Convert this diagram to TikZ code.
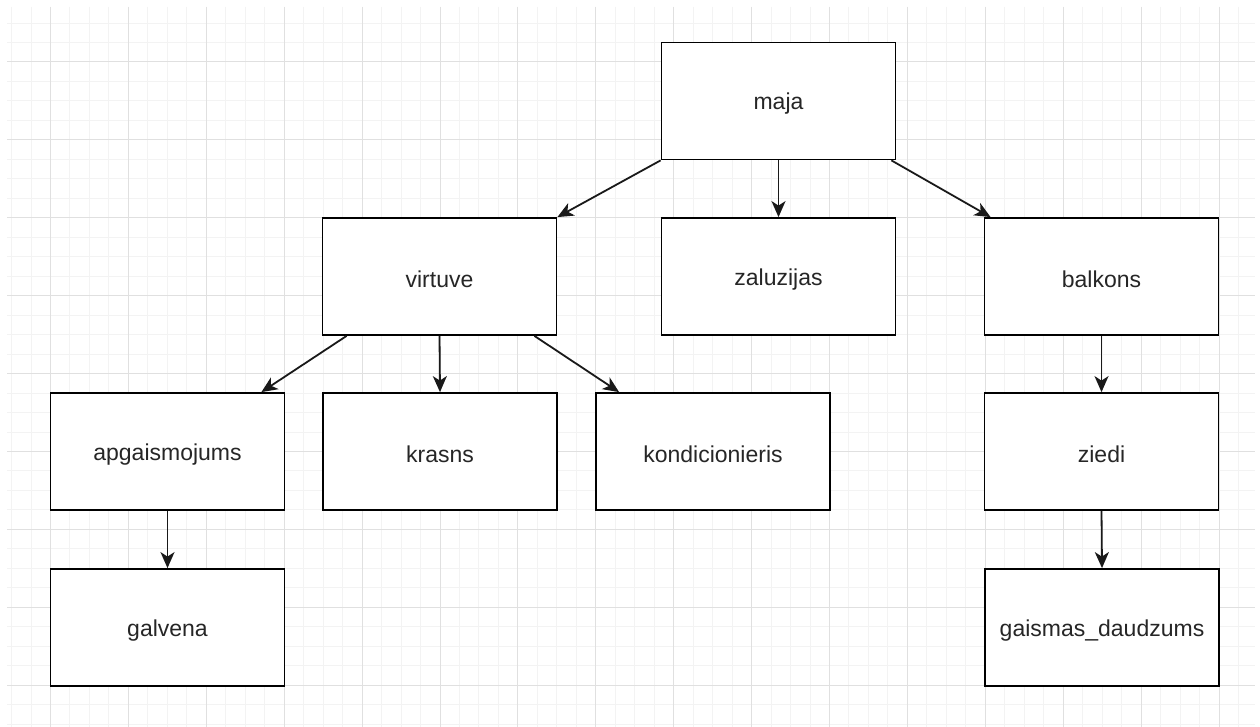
\documentclass[tikz,border=0pt]{standalone}
\usepackage{fontspec}
\setmainfont{Liberation Sans}
\usetikzlibrary{arrows.meta}
\definecolor{gridminor}{RGB}{243,243,243}
\definecolor{gridmajor}{RGB}{224,224,224}
\tikzset{
  box/.style={draw=black, line width=1.8pt, fill=white, minimum width=234pt, minimum height=117pt, inner sep=0pt, font=\fontsize{23}{28}\selectfont, text=black!85},
  boxtext/.style={yshift=-3pt},
  link/.style={draw=black!90, line width=1.8pt, -{Stealth[length=16pt,width=14pt,inset=4.5pt]}}
}
\begin{document}
\begin{tikzpicture}[x=1pt,y=-1pt]
\useasboundingbox (0,0) rectangle (1260,727);
\fill[white] (0,0) rectangle (1260,727);
% minor grid
\foreach \i in {-2,...,61} {
  \draw[gridminor, line width=1pt] ({50.5+\i*19.475},7) -- ({50.5+\i*19.475},727);
}
\foreach \j in {-2,...,34} {
  \draw[gridminor, line width=1pt] (7,{62+\j*19.475}) -- (1255,{62+\j*19.475});
}
% major grid
\foreach \i in {0,...,15} {
  \draw[gridmajor, line width=1pt] ({50.5+\i*77.9},7) -- ({50.5+\i*77.9},727);
}
\foreach \j in {0,...,8} {
  \draw[gridmajor, line width=1pt] (7,{62+\j*77.9}) -- (1255,{62+\j*77.9});
}
% nodes
\node[box] (maja) at (778.5,101) {};
\node[box] (virtuve) at (439.5,276.5) {};
\node[box] (zaluzijas) at (778.5,276.5) {};
\node[box] (balkons) at (1101.5,276.5) {};
\node[box] (apg) at (167.5,451.5) {};
\node[box] (krasns) at (440,451.5) {};
\node[box] (kond) at (713,451.5) {};
\node[box] (ziedi) at (1101.5,451.5) {};
\node[box] (galvena) at (167.5,627.5) {};
\node[box] (gaismas) at (1102,627.5) {};
\tikzset{lbl/.style={font=\fontsize{23}{28}\selectfont, text=black!85, inner sep=0pt, anchor=center, yshift=-3pt}}
\node[lbl] (t1) at (maja.center) {maja};
\node[lbl] (t2) at (virtuve.center) {virtuve};
\node[lbl] (t3) at (zaluzijas.center) {zaluzijas};
\node[lbl] (t4) at (balkons.center) {balkons};
\node[lbl] (t5) at (apg.center) {apgaismojums};
\node[lbl] (t6) at (krasns.center) {krasns};
\node[lbl] (t7) at (kond.center) {kondicionieris};
\node[lbl] (t8) at (ziedi.center) {ziedi};
\node[lbl] (t9) at (galvena.center) {galvena};
\node[lbl] (t10) at (gaismas.center) {gaismas\_daudzums};
% connectors
\draw[link] (maja.south west) -- (virtuve.north east);
\draw[link] (maja.south) -- (zaluzijas.north);
\draw[link] ([xshift=-5pt]maja.south east) -- ([xshift=7pt]balkons.north west);
\draw[link] ([xshift=25pt]virtuve.south west) -- ([xshift=-24pt]apg.north east);
\draw[link] (virtuve.south) -- (krasns.north);
\draw[link] ([xshift=-23pt]virtuve.south east) -- ([xshift=24pt]kond.north west);
\draw[link] (apg.south) -- (galvena.north);
\draw[link] (balkons.south) -- (ziedi.north);
\draw[link] (ziedi.south) -- (gaismas.north);
\end{tikzpicture}
\end{document}
